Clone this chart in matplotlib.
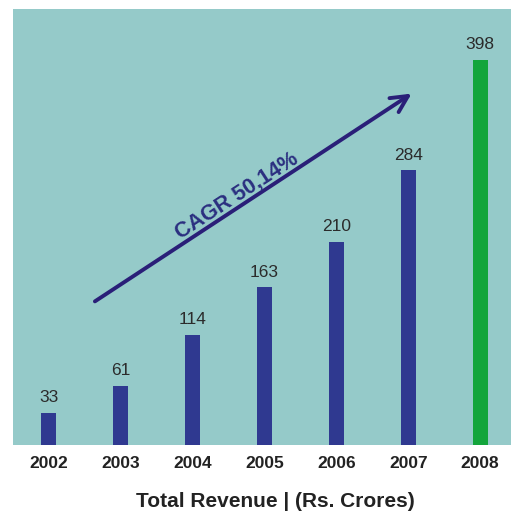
import numpy as np
import matplotlib.pyplot as plt

plt.rcParams['font.family'] = ['Liberation Sans', 'DejaVu Sans']

years = ['2002', '2003', '2004', '2005', '2006', '2007', '2008']
revenue = [33, 61, 114, 163, 210, 284, 398]
bar_colors = ['#2f3990'] * 6 + ['#13a53b']

fig = plt.figure(figsize=(5.11, 5.23), dpi=100)
ax = fig.add_axes([0.025, 0.149, 0.975, 0.834])
ax.set_facecolor('#95cac9')

x = np.arange(len(years))
ax.bar(x, revenue, width=0.21, color=bar_colors, zorder=2)

# value labels above each bar
for xi, v in zip(x, revenue):
    ax.text(xi, v + 8, str(v), ha='center', va='bottom', fontsize=12.5,
            color='#2b2b2b')

ax.set_xlim(-0.5, 6.43)
ax.set_ylim(0, 451)
ax.set_yticks([])
ax.set_xticks(x)
ax.set_xticklabels(years, fontsize=12.5, fontweight='bold', color='#222222')
ax.tick_params(axis='x', length=0, pad=8)
for s in ax.spines.values():
    s.set_visible(False)

# growth arrow
ax.annotate('', xy=(5.08, 365), xytext=(0.61, 147),
            arrowprops=dict(arrowstyle='->', color='#2a1f78', lw=2.8,
                            mutation_scale=30), zorder=3)
ax.text(2.61, 258, 'CAGR 50,14%', rotation=33, ha='center', va='center',
        fontsize=15.5, fontweight='bold', color='#2b2f80')

fig.text(0.538, 0.022, 'Total Revenue | (Rs. Crores)', ha='center', va='bottom',
         fontsize=15, fontweight='bold', color='#222222')

fig.savefig('out.png', dpi=100)
